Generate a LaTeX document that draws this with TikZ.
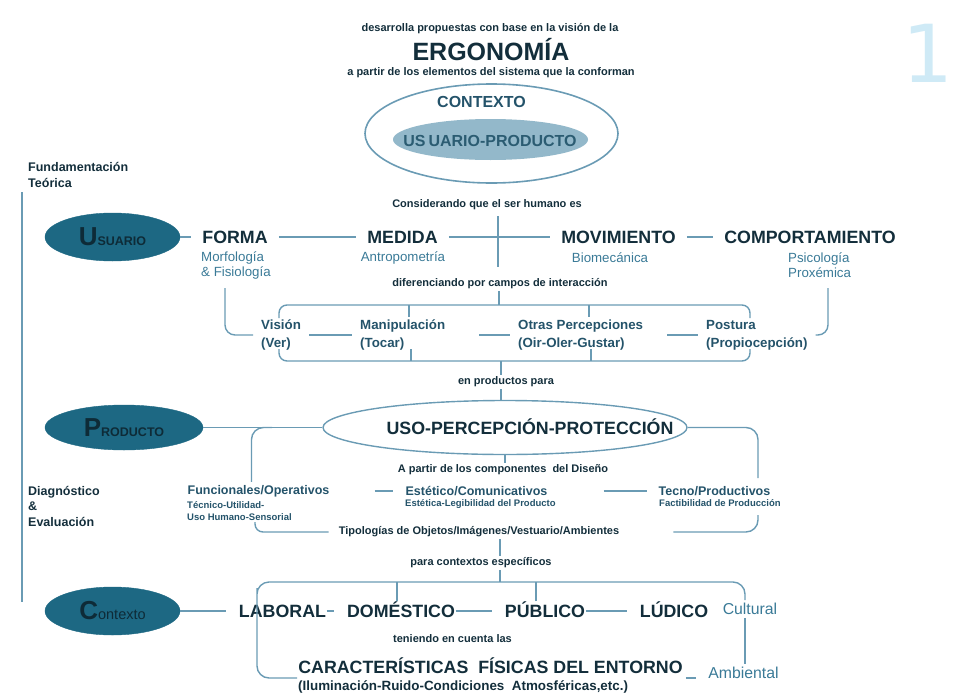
\documentclass[tikz,border=0pt]{standalone}
\usepackage{fontspec}
\setmainfont{Liberation Sans}
\newfontfamily\dejavu{DejaVu Sans}
\usetikzlibrary{shapes.geometric}

\definecolor{ink}{HTML}{132E3B}
\definecolor{midink}{HTML}{24536A}
\definecolor{tealtext}{HTML}{3A7A97}
\definecolor{wire}{HTML}{6A9BB4}
\definecolor{ovaldark}{HTML}{1D6883}
\definecolor{ovalink}{HTML}{0E2B37}
\definecolor{ovallight}{HTML}{93B8CA}
\definecolor{uptext}{HTML}{2B5C72}
\definecolor{numblue}{HTML}{CFEAF6}

\tikzset{
  wire/.style={draw=wire, line width=1.4pt},
  lema/.style={font=\bfseries\fontsize{11}{12}\selectfont, text=ink, inner sep=2pt},
  campo/.style={font=\bfseries\fontsize{17.8}{20}\selectfont, text=ink, text height=12.8pt, text depth=0pt, inner xsep=11pt, inner ysep=3pt},
  ambito/.style={campo, inner xsep=0.5pt},
  rama/.style={font=\fontsize{13.3}{15}\selectfont, text=tealtext, align=left, inner sep=1pt},
  sentido/.style={font=\bfseries\fontsize{13.3}{18}\selectfont, text=midink, align=left, inner xsep=8pt, inner ysep=2pt},
  componente/.style={font=\bfseries\fontsize{12.5}{14}\selectfont, text=midink, inner sep=3pt},
  nota/.style={font=\bfseries\fontsize{9.5}{12}\selectfont, text=midink, align=left, inner sep=1pt},
  lateral/.style={font=\bfseries\fontsize{12.5}{15.5}\selectfont, text=ink, align=left, inner sep=1pt},
  eje/.style={ellipse, fill=ovaldark, draw=ovaldark, font=\bfseries, text=ovalink, inner sep=0pt},
  entorno/.style={font=\fontsize{15.8}{18}\selectfont, text=tealtext, inner sep=3pt}
}

\begin{document}
\begin{tikzpicture}[x=1pt,y=-1pt]
\useasboundingbox (0,0) rectangle (955,696);

% cabecera
\node[lema] (lema1) at (490,29) {desarrolla propuestas con base en la visión de la};
\node[font=\bfseries\fontsize{25}{28}\selectfont, text=ink, text height=17.9pt, text depth=0pt] (ergo) at (491,52) {ERGONOMÍA};
\node[lema] (lema2) at (491,73) {a partir de los elementos del sistema que la conforman};
\node[ellipse, draw=wire, line width=1.6pt, minimum width=253pt, minimum height=99pt] (marco) at (491.5,133.5) {};
\node[font=\bfseries\fontsize{16}{18}\selectfont, text=midink] (marcolbl) at (481.5,102) {CONTEXTO};
\node[ellipse, fill=ovallight, minimum width=195pt, minimum height=41pt] (nucleo) at (490.5,139.5) {};
\node[font=\bfseries\fontsize{16}{18}\selectfont, text=uptext] (nucleolbl) at (490,141) {US\kern3pt UARIO-PRODUCTO};
\node[font=\dejavu\fontsize{80}{80}\selectfont, text=numblue, inner sep=0pt] (folio) at (928,53) {1};

% lateral
\node[lateral, anchor=west] (fund) at (27,175) {Fundamentación\\Teórica};
\node[lateral, anchor=west] (diag) at (27,506) {Diagnóstico\\\&\\Evaluación};
\coordinate (barra1) at (22,192);
\coordinate (barra2) at (22,602);
\draw[wire, line width=1.6pt] (barra1) -- (barra2);

% usuario
\node[eje, minimum width=135pt, minimum height=48pt] (usu) at (112.5,237) {{\fontsize{26}{26}\selectfont U}{\fontsize{12.5}{13}\selectfont SUARIO}};
\node[lema] (consid) at (487,205) {Considerando que el ser humano es};
\node[campo] (forma) at (235,237) {FORMA};
\node[campo] (medida) at (402.5,237) {MEDIDA};
\node[campo] (movim) at (618.5,237) {MOVIMIENTO};
\node[campo] (compor) at (810,237) {COMPORTAMIENTO};
\node[rama, anchor=west] (morfo) at (200,265.5) {Morfología\\\& Fisiología};
\node[rama] (antropo) at (403,258) {Antropometría};
\node[rama] (biomec) at (610,258) {Biomecánica};
\node[rama, anchor=west] (psico) at (787,265.5) {Psicología\\Proxémica};
\node[lema] (difer) at (500,284) {diferenciando por campos de interacción};
\coordinate (ejeU) at (498,237);
\draw[wire] (usu) -- (forma);
\draw[wire] (forma) -- (medida);
\draw[wire] (medida) -- (movim);
\draw[wire] (movim) -- (compor);
\draw[wire, shorten <=4pt, shorten >=10pt] (consid.south -| ejeU) -- (difer.north -| ejeU);

% campos de interaccion
\node[sentido, anchor=west] (vision) at (253,335) {Visión\\(Ver)};
\node[sentido, anchor=west] (manip) at (352,335) {Manipulación\\(Tocar)};
\node[sentido, anchor=west] (otras) at (510,335) {Otras Percepciones\\(Oir-Oler-Gustar)};
\node[sentido, anchor=west] (postura) at (698,335) {Postura\\(Propiocepción)};
\draw[wire] (vision) -- (manip);
\draw[wire, shorten <=26pt] (manip) -- (otras);
\draw[wire, shorten <=16pt] (otras) -- (postura);
\coordinate (arribaI) at (279,318);
\coordinate (arribaD) at (750,318);
\coordinate (nudo1) at (499,305);
\draw[wire, rounded corners=8pt] (arribaI) |- (nudo1) -| (arribaD);
\draw[wire] (difer.south -| nudo1) -- (nudo1);
\foreach \x in {409,589} \draw[wire] (\x,305) -- (\x,317);
\coordinate (abajoI) at (279,349);
\coordinate (abajoD) at (750,349);
\coordinate (nudo2) at (501,361);
\draw[wire, rounded corners=8pt] (abajoI) |- (nudo2) -| (abajoD);
\foreach \x in {411,591} \draw[wire] (\x,349) -- (\x,361);
\coordinate (pieI) at (225,288);
\coordinate (pieD) at (828,288);
\draw[wire, rounded corners=10pt] (pieI) |- (vision.west);
\draw[wire, rounded corners=10pt] (pieD) |- (postura.east);

% producto
\node[lema] (enprod) at (506,382) {en productos para};
\draw[wire] (nudo2) -- (nudo2 |- enprod.north);
\node[ellipse, draw=wire, line width=1.4pt, minimum width=364pt, minimum height=54pt] (usoell) at (505,427.5) {};
\node[campo, inner xsep=0pt] (usolbl) at (530,428) {USO-PERCEPCIÓN-PROTECCIÓN};
\draw[wire] (enprod.south -| nudo2) -- (nudo2 |- usoell.north);
\node[eje, minimum width=158pt, minimum height=45pt] (prod) at (124,427.5) {{\fontsize{26}{26}\selectfont P}{\fontsize{12.5}{13}\selectfont RODUCTO}};
\draw[wire] (prod) -- (usoell);
\node[lema] (apartir) at (503,470) {A partir de los componentes\ \ del Diseño};
\draw[wire] (usoell.south) -- (usoell.south |- apartir.north);
\node[componente] (funcion) at (258.5,491) {Funcionales/Operativos};
\node[nota, anchor=west] (funcnota) at (186,511) {Técnico-Utilidad-\\Uso Humano-Sensorial};
\node[componente] (estet) at (476.5,491) {Estético/Comunicativos};
\node[nota, anchor=west] (estenota) at (404,504) {Estética-Legibilidad del Producto};
\node[componente] (tecno) at (714.5,491) {Tecno/Productivos};
\node[nota, anchor=west] (tecnonota) at (658,503) {Factibilidad de Producción};
\draw[wire, shorten <=42pt, shorten >=9pt] (funcion) -- (estet);
\draw[wire, shorten <=53pt, shorten >=9pt] (estet) -- (tecno);
\coordinate (rama1) at (272,427.5);
\coordinate (rama2) at (758,478);
\draw[wire, rounded corners=12pt] (rama1) -| ([xshift=-7pt]funcion.north);
\draw[wire, rounded corners=12pt] (usoell.east) -| (rama2);
\node[lema, inner xsep=10pt] (tipo) at (479,532) {Tipologías de Objetos/Imágenes/Vestuario/Ambientes};
\coordinate (rizoI) at (255,522);
\coordinate (rizoD) at (758,515);
\draw[wire, rounded corners=8pt] (rizoI) |- (tipo.west);
\draw[wire, rounded corners=12pt, shorten <=44pt] (tipo.east) -| (rizoD);
\coordinate (nudo3) at (500,582);
\node[lema] (paracon) at (481,563) {para contextos específicos};
\draw[wire] (tipo.south -| nudo3) -- (paracon.north -| nudo3);
\draw[wire] (paracon.south -| nudo3) -- (nudo3);

% contexto
\node[eje, minimum width=135pt, minimum height=48pt] (ctxo) at (112.5,611) {{\fontsize{26}{26}\selectfont C}{\mdseries\fontsize{14.5}{15}\selectfont ontexto}};
\node[ambito] (laboral) at (282.5,611) {LABORAL};
\node[ambito] (domest) at (401,611) {DOMÉSTICO};
\node[ambito] (publico) at (545,611) {PÚBLICO};
\node[ambito] (ludico) at (674,611) {LÚDICO};
\node[entorno] (cultural) at (750,609) {Cultural};
\draw[wire, shorten >=12pt] (ctxo) -- (laboral);
\draw[wire, shorten >=12pt] (laboral) -- (domest);
\draw[wire, shorten >=12pt] (domest) -- (publico);
\draw[wire, shorten >=12pt] (publico) -- (ludico);
\node[lema] (teniendo) at (452.5,639) {teniendo en cuenta las};
\node[campo, inner xsep=3pt] (caract) at (490.5,667) {CARACTERÍSTICAS\ \ FÍSICAS DEL ENTORNO};
\node[font=\bfseries\fontsize{13.4}{15}\selectfont, text=ink, anchor=west, inner sep=1pt] (ilum) at (297,687) {(Iluminación-Ruido-Condiciones\ \ Atmosféricas,etc.)};
\node[entorno] (ambient) at (743.5,673) {Ambiental};
\coordinate (esquinaI) at (257,600);
\draw[wire, rounded corners=12pt] ([xshift=-5pt]cultural.north) |- (nudo3) -| (esquinaI) |- ([yshift=9pt]ilum.west);
\draw[wire] ([xshift=-4pt]domest.north) -- ([xshift=-4pt]domest.north |- nudo3);
\draw[wire] ([xshift=-9pt]publico.north) -- ([xshift=-9pt]publico.north |- nudo3);
\draw[wire] ([xshift=-5pt]cultural.south) -- ([xshift=-5pt]cultural.south |- ambient.north);
\draw[wire, shorten >=9pt] ([yshift=-11pt]caract.east) -- ([yshift=-5pt]ambient.west);
\end{tikzpicture}
\end{document}
